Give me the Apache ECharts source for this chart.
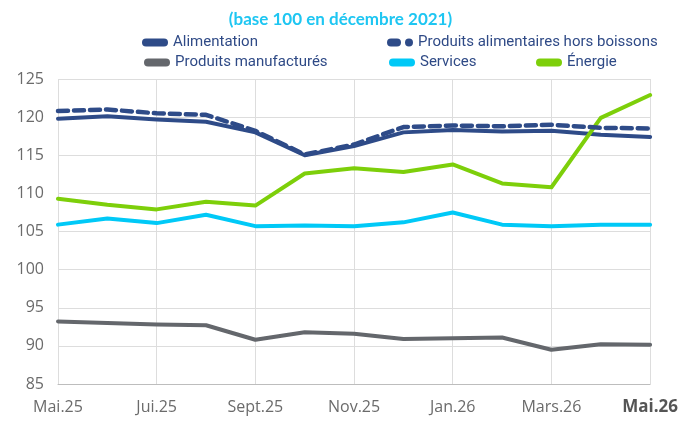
<!DOCTYPE html>
<html>
<head>
<meta charset="utf-8">
<script src="https://cdn.jsdelivr.net/npm/echarts@6/dist/echarts.min.js"></script>
<style>
  html, body { margin: 0; padding: 0; background: #fff; }
  #chart { width: 681px; height: 421px; }
</style>
</head>
<body>
<div id="chart"></div>
<script>
const months = ['Mai.25', 'Juin.25', 'Jui.25', 'Août.25', 'Sept.25', 'Oct.25', 'Nov.25',
	'Déc.25', 'Jan.26', 'Fév.26', 'Mars.26', 'Avr.26', 'Mai.26']

const alimentation = [119.8, 120.1, 119.7, 119.4, 118.0, 115.0, 116.2, 118.0, 118.3, 118.1, 118.2, 117.7, 117.4]
const alimHorsBoissons = [120.8, 121.0, 120.5, 120.3, 118.2, 115.1, 116.4, 118.7, 118.9, 118.8, 119.0, 118.6, 118.5]
const manufactures = [93.2, 93.0, 92.8, 92.7, 90.8, 91.8, 91.6, 90.9, 91.0, 91.1, 89.5, 90.2, 90.15]
const services = [105.9, 106.7, 106.1, 107.2, 105.7, 105.8, 105.7, 106.2, 107.5, 105.9, 105.7, 105.9, 105.9]
const energie = [109.3, 108.5, 107.9, 108.9, 108.4, 112.6, 113.3, 112.8, 113.8, 111.3, 110.8, 119.9, 122.9]

const legendFont = { color: '#2f4a86', fontSize: 15, fontFamily: 'Roboto' }
const pill = 'path://M4,0 L22,0 A4,4 0 0 1 22,8 L4,8 A4,4 0 0 1 4,0 Z'
const dashPill = 'path://M4,0 L10,0 A4,4 0 0 1 10,8 L4,8 A4,4 0 0 1 4,0 Z M22,0 A4,4 0 1 1 22,8 A4,4 0 1 1 22,0 Z'

function legendAt(name, icon, left, top) {
	return {
		data: [{ name: name, icon: icon }],
		left: left, top: top,
		itemWidth: 26, itemHeight: 8, itemGap: 0,
		textStyle: legendFont,
		selectedMode: false
	}
}

function line(name, data, color, dashed) {
	return {
		name: name,
		type: 'line',
		data: data,
		symbol: 'none',
		z: dashed ? 3 : 2,
		itemStyle: { color: color },
		lineStyle: {
			color: color,
			width: dashed ? 4.5 : 4,
			type: dashed ? [10, 6] : 'solid',
			cap: 'round',
			join: 'round'
		}
	}
}

const chart = echarts.init(document.getElementById('chart'))
chart.setOption({
	animation: false,
	title: {
		text: '(base 100 en décembre 2021)',
		left: 'center', top: 6,
		textStyle: { color: '#1ec6f2', fontSize: 17, fontWeight: 'bold', fontFamily: 'Lato' }
	},
	legend: [
		legendAt('Alimentation', pill, 137, 30),
		legendAt('Produits alimentaires hors boissons', dashPill, 382, 30),
		legendAt('Produits manufacturés', pill, 139, 50),
		legendAt('Services', pill, 384, 50),
		legendAt('Énergie', pill, 531, 50)
	],
	grid: { left: 58, right: 29, top: 79, bottom: 37 },
	xAxis: {
		type: 'category',
		data: months,
		boundaryGap: false,
		axisLine: { lineStyle: { color: '#bdbdbd' } },
		axisTick: { show: false },
		splitLine: { show: true, lineStyle: { color: '#dddddd' } },
		axisLabel: {
			interval: 1,
			margin: 15,
			color: '#6b6b6b',
			fontSize: 16,
			fontFamily: 'Open Sans',
			formatter: function (v, i) {
				return i === months.length - 1 ? '{b|' + v + '}' : v
			},
			rich: { b: { fontWeight: 'bold', color: '#555', fontSize: 17, fontFamily: 'Open Sans' } }
		}
	},
	yAxis: {
		type: 'value',
		min: 85, max: 125, interval: 5,
		axisLine: { show: false },
		axisTick: { show: false },
		splitLine: { lineStyle: { color: '#dddddd' } },
		axisLabel: { color: '#6b6b6b', fontSize: 16, fontFamily: 'Open Sans', margin: 14 }
	},
	series: [
		line('Alimentation', alimentation, '#2e4b88', false),
		line('Produits alimentaires hors boissons', alimHorsBoissons, '#2e4b88', true),
		line('Produits manufacturés', manufactures, '#64676c', false),
		line('Services', services, '#00c9f7', false),
		line('Énergie', energie, '#7dcf0a', false)
	]
})
</script>
</body>
</html>
